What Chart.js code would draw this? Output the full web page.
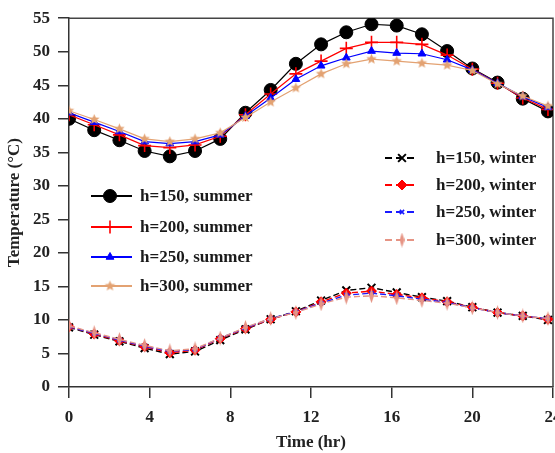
<!DOCTYPE html>
<html>
<head>
<meta charset="utf-8">
<script src="https://cdn.jsdelivr.net/npm/chart.js@4.4.0/dist/chart.umd.min.js"></script>
<style>
  html, body { margin: 0; padding: 0; background: #fff; overflow: hidden; width: 555px; height: 453px; }
  #wrap { width: 555px; height: 453px; overflow: hidden; position: relative; }
  canvas { display: block; }
</style>
</head>
<body>
<div id="wrap"><canvas id="c" width="580" height="453"></canvas></div>
<script>
// Hour of day for every sample
const hours = [0, 1.25, 2.5, 3.75, 5, 6.25, 7.5, 8.75, 10, 11.25, 12.5, 13.75, 15, 16.25, 17.5, 18.75, 20, 21.25, 22.5, 23.75];

// Summer temperatures (°C)
const summer150 = [40.0, 38.3, 36.8, 35.2, 34.4, 35.2, 37.0, 40.9, 44.3, 48.2, 51.1, 52.9, 54.1, 53.9, 52.6, 50.1, 47.5, 45.4, 43.0, 41.1];
const summer200 = [40.6, 39.1, 37.6, 36.0, 35.7, 36.1, 37.4, 40.6, 43.7, 46.7, 48.6, 50.5, 51.4, 51.4, 51.1, 49.5, 47.4, 45.3, 43.1, 41.4];
const summer250 = [40.9, 39.5, 38.1, 36.6, 36.3, 36.6, 37.6, 40.4, 43.1, 45.9, 47.9, 49.1, 50.1, 49.8, 49.7, 48.8, 47.3, 45.3, 43.3, 41.7];
const summer300 = [41.2, 39.9, 38.5, 37.0, 36.6, 37.0, 37.9, 40.2, 42.5, 44.6, 46.7, 48.2, 48.9, 48.6, 48.3, 48.0, 47.2, 45.2, 43.4, 41.9];

// Winter temperatures (°C)
const winter150 = [8.9, 7.8, 6.8, 5.8, 4.9, 5.3, 7.0, 8.6, 10.1, 11.3, 12.9, 14.4, 14.8, 14.1, 13.4, 12.8, 11.9, 11.1, 10.6, 10.0];
const winter200 = [9.0, 7.9, 6.9, 6.0, 5.1, 5.5, 7.2, 8.7, 10.1, 11.2, 12.7, 14.0, 14.3, 13.8, 13.3, 12.7, 11.9, 11.1, 10.6, 10.1];
const winter250 = [9.0, 8.0, 7.0, 6.1, 5.3, 5.6, 7.3, 8.8, 10.2, 11.2, 12.5, 13.7, 14.0, 13.6, 13.1, 12.6, 11.8, 11.1, 10.6, 10.2];
const winter300 = [9.1, 8.1, 7.1, 6.2, 5.4, 5.7, 7.3, 8.9, 10.2, 11.1, 12.4, 13.4, 13.6, 13.3, 12.9, 12.5, 11.8, 11.1, 10.6, 10.2];

const summerLabels = ['h=150, summer', 'h=200, summer', 'h=250, summer', 'h=300, summer'];
const winterLabels = ['h=150, winter', 'h=200, winter', 'h=250, winter', 'h=300, winter'];

const xTickValues = [0, 4, 8, 12, 16, 20, 24];
const yTickValues = [0, 5, 10, 15, 20, 25, 30, 35, 40, 45, 50, 55];

const FONT_FAMILY = "'Liberation Serif', 'Times New Roman', serif";

// Filled five-pointed star marker
function starMarker(r, color) {
  const c = document.createElement('canvas');
  const s = Math.ceil(r * 2 + 2);
  c.width = s; c.height = s;
  const g = c.getContext('2d');
  g.fillStyle = color;
  g.beginPath();
  for (let k = 0; k < 10; k++) {
    const rr = k % 2 ? r * 0.45 : r;
    const a = -Math.PI / 2 + k * Math.PI / 5;
    g.lineTo(s / 2 + rr * Math.cos(a), s / 2 + rr * Math.sin(a));
  }
  g.closePath();
  g.fill();
  return c;
}

// Narrow upright diamond marker
function slimDiamond(w, h, color) {
  const c = document.createElement('canvas');
  c.width = w; c.height = h;
  const g = c.getContext('2d');
  g.fillStyle = color;
  g.beginPath();
  g.moveTo(w / 2, 0); g.lineTo(w, h / 2); g.lineTo(w / 2, h); g.lineTo(0, h / 2);
  g.closePath();
  g.fill();
  return c;
}

const ORANGE = '#e3a272';
const PINK = '#e69484';

const styles = [
  { data: summer150, label: summerLabels[0], color: '#000000', point: 'circle', radius: 6.5, bw: 1, dash: [], lw: 1.2 },
  { data: summer200, label: summerLabels[1], color: '#ff0000', point: 'cross', radius: 6.5, bw: 1.6, dash: [], lw: 1.2 },
  { data: summer250, label: summerLabels[2], color: '#0000ff', point: 'triangle', radius: 4.5, bw: 1, dash: [], lw: 1.2 },
  { data: summer300, label: summerLabels[3], color: ORANGE, point: starMarker(5.5, ORANGE), radius: 5.5, bw: 1, dash: [], lw: 1.2 },
  { data: winter150, label: winterLabels[0], color: '#000000', point: 'crossRot', radius: 5.5, bw: 2, dash: [6, 3], lw: 1.4 },
  { data: winter200, label: winterLabels[1], color: '#ff0000', point: 'rectRot', radius: 5, bw: 1, dash: [6, 3], lw: 1.4 },
  { data: winter250, label: winterLabels[2], color: '#1a1aff', point: 'crossRot', radius: 3, bw: 1.6, dash: [6, 3], lw: 1.4 },
  { data: winter300, label: winterLabels[3], color: PINK, point: slimDiamond(5, 15, PINK), radius: 6, bw: 1, dash: [6, 3], lw: 1.4 }
];

const datasets = styles.map((s, i) => ({
  label: s.label,
  data: hours.map((h, k) => ({ x: h, y: s.data[k] })),
  borderColor: s.color,
  backgroundColor: s.color,
  borderWidth: s.lw,
  borderDash: s.dash,
  pointStyle: s.point,
  pointRadius: s.radius,
  pointBorderWidth: s.bw,
  pointBackgroundColor: s.color,
  pointBorderColor: s.color,
  tension: 0,
  fill: false,
  order: styles.length - i
}));

// Box lines along the top and right edges of the plot
const framePlugin = {
  id: 'frame',
  beforeDatasetsDraw(chart) {
    const { ctx, chartArea: a } = chart;
    ctx.save();
    ctx.strokeStyle = '#444';
    ctx.lineWidth = 1.5;
    ctx.beginPath();
    ctx.moveTo(a.left, a.top);
    ctx.lineTo(a.right, a.top);
    ctx.lineTo(a.right, a.bottom);
    ctx.stroke();
    ctx.restore();
  }
};

// Two legend boxes placed inside the plot
const legendPlugin = {
  id: 'twoLegends',
  afterDatasetsDraw(chart) {
    const ctx = chart.ctx;
    const groups = [
      { idx: [0, 1, 2, 3], x0: 91, x1: 132, mx: 110, tx: 140, rows: [196, 227, 257, 286] },
      { idx: [4, 5, 6, 7], x0: 385, x1: 418, mx: 402, tx: 436, rows: [158, 185, 212, 240] }
    ];
    ctx.save();
    groups.forEach(g => {
      g.idx.forEach((di, r) => {
        const s = styles[di];
        const y = g.rows[r];
        ctx.strokeStyle = s.color;
        ctx.fillStyle = s.color;
        ctx.lineWidth = s.lw + 0.6;
        ctx.setLineDash(s.dash.length ? [7, 4] : []);
        ctx.beginPath();
        ctx.moveTo(g.x0, y);
        ctx.lineTo(g.x1, y);
        ctx.stroke();
        ctx.setLineDash([]);
        ctx.lineWidth = s.bw;
        Chart.helpers.drawPoint(ctx, { pointStyle: s.point, radius: s.radius, rotation: 0, borderWidth: s.bw }, g.mx, y);
        ctx.fillStyle = '#1a1a1a';
        ctx.font = 'bold 17px ' + FONT_FAMILY;
        ctx.textBaseline = 'middle';
        ctx.textAlign = 'left';
        ctx.fillText(s.label, g.tx, y + 1);
      });
    });
    ctx.restore();
  }
};

new Chart(document.getElementById('c'), {
  type: 'line',
  data: { datasets },
  options: {
    responsive: false,
    animation: false,
    devicePixelRatio: 1,
    layout: { padding: { top: 17, right: 27, bottom: 0, left: 0 } },
    plugins: { legend: { display: false }, tooltip: { enabled: false } },
    scales: {
      x: {
        type: 'linear',
        min: 0, max: 24,
        afterBuildTicks: sc => { sc.ticks = xTickValues.map(v => ({ value: v })); },
        afterFit: sc => { sc.height = 66; },
        ticks: { font: { family: FONT_FAMILY, size: 17, weight: 'bold' }, color: '#222', padding: 9, maxRotation: 0, autoSkip: false },
        grid: { drawOnChartArea: false, drawTicks: true, tickLength: 11, color: '#333', lineWidth: 1.5 },
        border: { display: true, color: '#333', width: 1.5 },
        title: { display: true, text: 'Time (hr)', font: { family: FONT_FAMILY, size: 17, weight: 'bold' }, color: '#222', padding: { top: 0, bottom: 0 } }
      },
      y: {
        type: 'linear',
        min: 0, max: 55,
        afterBuildTicks: sc => { sc.ticks = yTickValues.map(v => ({ value: v })); },
        afterFit: sc => { sc.width = 69; },
        ticks: { font: { family: FONT_FAMILY, size: 17, weight: 'bold' }, color: '#222', padding: 8, autoSkip: false },
        grid: { drawOnChartArea: false, drawTicks: true, tickLength: 11, color: '#333', lineWidth: 1.5 },
        border: { display: true, color: '#333', width: 1.5 },
        title: { display: true, text: 'Temperature (°C)', font: { family: FONT_FAMILY, size: 17, weight: 'bold' }, color: '#222', padding: { top: 4, bottom: 0 } }
      }
    }
  },
  plugins: [framePlugin, legendPlugin]
});
</script>
</body>
</html>
